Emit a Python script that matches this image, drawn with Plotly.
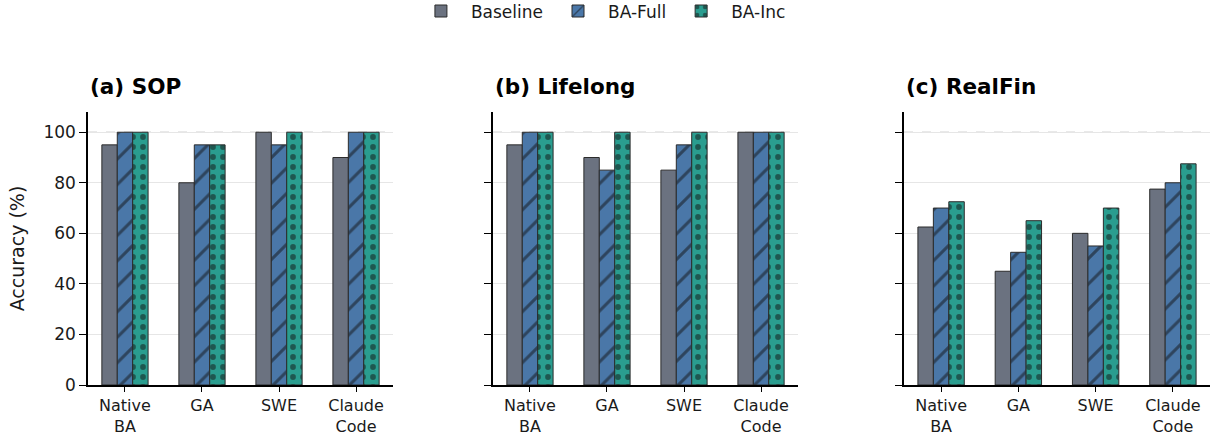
import plotly.graph_objects as go
from plotly.subplots import make_subplots

categories = ["Native<br>BA", "GA", "SWE", "Claude<br>Code"]
panel_titles = ["<b>(a) SOP</b>", "<b>(b) Lifelong</b>", "<b>(c) RealFin</b>"]
series_names = ["Baseline", "BA-Full", "BA-Inc"]

sop_baseline = [95, 80, 100, 90]
sop_full = [100, 95, 95, 100]
sop_inc = [100, 95, 100, 100]

lifelong_baseline = [95, 90, 85, 100]
lifelong_full = [100, 85, 95, 100]
lifelong_inc = [100, 100, 100, 100]

realfin_baseline = [62.5, 45, 60, 77.5]
realfin_full = [70, 52.5, 55, 80]
realfin_inc = [72.5, 65, 70, 87.5]

y_ticks = [0, 20, 40, 60, 80, 100]

panels = [
    [sop_baseline, sop_full, sop_inc],
    [lifelong_baseline, lifelong_full, lifelong_inc],
    [realfin_baseline, realfin_full, realfin_inc],
]

colors = ["#6b7280", "#4a77a8", "#2a9d8f"]
patterns = [
    dict(shape=""),
    dict(shape="/", fgcolor="#111111", bgcolor="#4a77a8", size=18, solidity=0.17, fillmode="overlay"),
    dict(shape=".", fgcolor="#111111", bgcolor="#2a9d8f", size=10, solidity=0.26, fillmode="overlay"),
]

FONT = "DejaVu Sans"
fig = make_subplots(rows=1, cols=3, shared_yaxes=True)

for p, data in enumerate(panels):
    for s, vals in enumerate(data):
        fig.add_trace(
            go.Bar(
                x=categories,
                y=vals,
                name=series_names[s],
                marker=dict(color=colors[s], line=dict(color="#2b2b2b", width=1), pattern=patterns[s]),
                showlegend=(p == 0),
                legendgroup=series_names[s],
            ),
            row=1, col=p + 1,
        )

W, H = 1214, 436
xdoms = [(88, 393), (493, 798), (904, 1210)]
ytop, ybot = 112, 385

layout_updates = {}
for i, (a, b) in enumerate(xdoms):
    xn = "xaxis" if i == 0 else f"xaxis{i+1}"
    yn = "yaxis" if i == 0 else f"yaxis{i+1}"
    layout_updates[xn] = dict(
        domain=[a / W, b / W], range=[-0.48, 3.48], showline=True, linecolor="black", linewidth=1.5,
        ticks="outside", ticklen=5, tickwidth=1.2, tickcolor="black", showgrid=False, automargin=False,
        tickfont=dict(family=FONT, size=16, color="#1a1a1a"), zeroline=False,
    )
    layout_updates[yn] = dict(
        domain=[1 - ybot / H, 1 - ytop / H], range=[0, 108], showline=True, linecolor="black", linewidth=1.5,
        ticks="outside", ticklen=7, tickwidth=1.2, tickcolor="black", tickvals=y_ticks, automargin=False,
        showticklabels=(i == 0), showgrid=True, gridcolor="#e6e6e6", gridwidth=1, zeroline=False,
        tickfont=dict(family=FONT, size=17, color="#1a1a1a"),
    )
layout_updates["yaxis"]["title"] = dict(text="Accuracy (%)", font=dict(family=FONT, size=19, color="#1a1a1a"), standoff=14)
fig.update_layout(**layout_updates)

for i, (a, b) in enumerate(xdoms):
    xr = "x domain" if i == 0 else f"x{i+1} domain"
    yr = "y" if i == 0 else f"y{i+1}"
    fig.add_shape(type="line", xref=xr, yref=yr, x0=0, x1=1, y0=100, y1=100,
                  line=dict(color="#b0b0b0", width=1, dash="dash"), layer="below")
    fig.add_annotation(text=panel_titles[i], xref="paper", yref="paper", x=a / W, y=1 - 86 / H,
                       xanchor="left", yanchor="middle", showarrow=False,
                       font=dict(family=FONT, size=21.5, color="black"))

fig.update_layout(
    width=W, height=H, margin=dict(l=0, r=0, t=0, b=0, autoexpand=False),
    plot_bgcolor="white", paper_bgcolor="white",
    barmode="group", bargap=0.4, bargroupgap=0,
    font=dict(family=FONT, size=17, color="#1a1a1a"),
    legend=dict(orientation="h", x=0.495, xanchor="center", y=1.015, yanchor="top",
                font=dict(family=FONT, size=17, color="#1a1a1a"), itemwidth=50, tracegroupgap=0),
)

fig.write_html("out.html", config={"displayModeBar": False},
               post_script="document.body.style.margin='0';document.body.style.overflow='hidden';")
